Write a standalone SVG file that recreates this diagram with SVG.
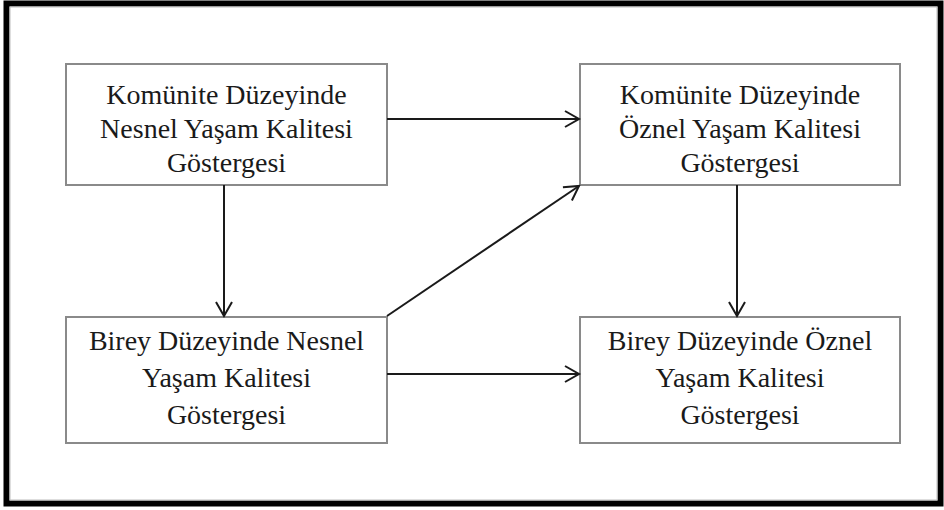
<svg xmlns="http://www.w3.org/2000/svg" width="944" height="510" viewBox="0 0 944 510">
  <defs>
    <marker id="arr" markerUnits="userSpaceOnUse" markerWidth="20" markerHeight="20" viewBox="-17 -10 19 20" refX="0" refY="0" orient="auto">
      <path d="M-14,-8 L0,0 L-14,8" fill="none" stroke="#1a1a1a" stroke-width="2"/>
    </marker>
  </defs>
  <style>
    .box { fill: #ffffff; stroke: #8a8a8a; stroke-width: 2; }
    .lbl { font-family: "Liberation Serif", "Times New Roman", serif; font-size: 28px; fill: #1a1a1a; text-anchor: middle; }
    .con { fill: none; stroke: #1a1a1a; stroke-width: 2; marker-end: url(#arr); }
  </style>
  <rect x="0" y="0" width="944" height="510" fill="#ffffff"/>
  <rect x="6.5" y="3.5" width="934" height="500" fill="none" stroke="#000000" stroke-width="6"/>
  <rect x="10" y="7" width="927" height="493" fill="none" stroke="#bdbdbd" stroke-width="1"/>

  <g id="n1">
    <rect class="box" x="66" y="64" width="321" height="121"/>
    <text class="lbl" x="226.5" y="104">Komünite Düzeyinde</text>
    <text class="lbl" x="226.5" y="138">Nesnel Yaşam Kalitesi</text>
    <text class="lbl" x="226.5" y="172">Göstergesi</text>
  </g>
  <g id="n2">
    <rect class="box" x="580" y="64" width="320" height="121"/>
    <text class="lbl" x="740" y="104">Komünite Düzeyinde</text>
    <text class="lbl" x="740" y="138">Öznel Yaşam Kalitesi</text>
    <text class="lbl" x="740" y="172">Göstergesi</text>
  </g>
  <g id="n3">
    <rect class="box" x="66" y="317" width="321" height="126"/>
    <text class="lbl" x="226.5" y="350">Birey Düzeyinde Nesnel</text>
    <text class="lbl" x="226.5" y="387">Yaşam Kalitesi</text>
    <text class="lbl" x="226.5" y="424">Göstergesi</text>
  </g>
  <g id="n4">
    <rect class="box" x="580" y="317" width="320" height="126"/>
    <text class="lbl" x="740" y="350">Birey Düzeyinde Öznel</text>
    <text class="lbl" x="740" y="387">Yaşam Kalitesi</text>
    <text class="lbl" x="740" y="424">Göstergesi</text>
  </g>

  <g id="connectors">
    <line class="con" x1="387" y1="119" x2="579" y2="119"/>
    <line class="con" x1="224" y1="185" x2="224" y2="316"/>
    <line class="con" x1="737" y1="185" x2="737" y2="316"/>
    <line class="con" x1="387" y1="316" x2="579" y2="186"/>
    <line class="con" x1="387" y1="374" x2="579" y2="374"/>
  </g>
</svg>
